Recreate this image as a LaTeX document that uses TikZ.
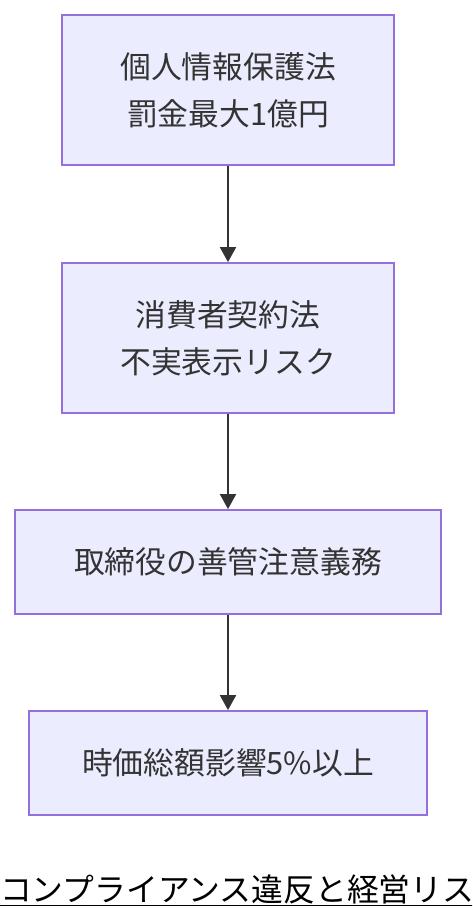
\documentclass[tikz,border=0pt]{standalone}
\usepackage{fontspec}
\setmainfont{Noto Sans CJK JP}
\usetikzlibrary{arrows.meta}
\definecolor{boxfill}{HTML}{ECECFF}
\definecolor{boxline}{HTML}{9370DB}
\definecolor{ink}{HTML}{333333}
\tikzset{
  flowbox/.style={draw=boxline, fill=boxfill, line width=1.8pt, text=ink,
    font=\fontsize{30.8pt}{47pt}\selectfont, align=center, inner sep=0pt},
  flowarrow/.style={draw=ink, line width=2pt, -{Triangle[length=15pt,width=16pt]}}
}
\begin{document}
\begin{tikzpicture}[x=1pt,y=-1pt]
\useasboundingbox (0,0) rectangle (472,924);
\node[flowbox, minimum width=332pt, minimum height=150pt] (a) at (228,90) {個人情報保護法\\罰金最大1億円};
\node[flowbox, minimum width=332pt, minimum height=150pt] (b) at (228,338) {消費者契約法\\不実表示リスク};
\node[flowbox, minimum width=426pt, minimum height=104pt] (c) at (228,562) {取締役の善管注意義務};
\node[flowbox, minimum width=398pt, minimum height=104pt] (d) at (228,763) {時価総額影響5\%以上};
\draw[flowarrow] (a.south) -- (b.north);
\draw[flowarrow] (b.south) -- (c.north);
\draw[flowarrow] (c.south) -- (d.north);
\begin{scope}
\clip (0,0) rectangle (472,924);
\node[anchor=base west, inner sep=0pt, text=black, font=\fontsize{31.8pt}{36pt}\selectfont] (t) at (0,901) {\underline{コンプライアンス違反と経営リス}};
\end{scope}
\end{tikzpicture}
\end{document}
